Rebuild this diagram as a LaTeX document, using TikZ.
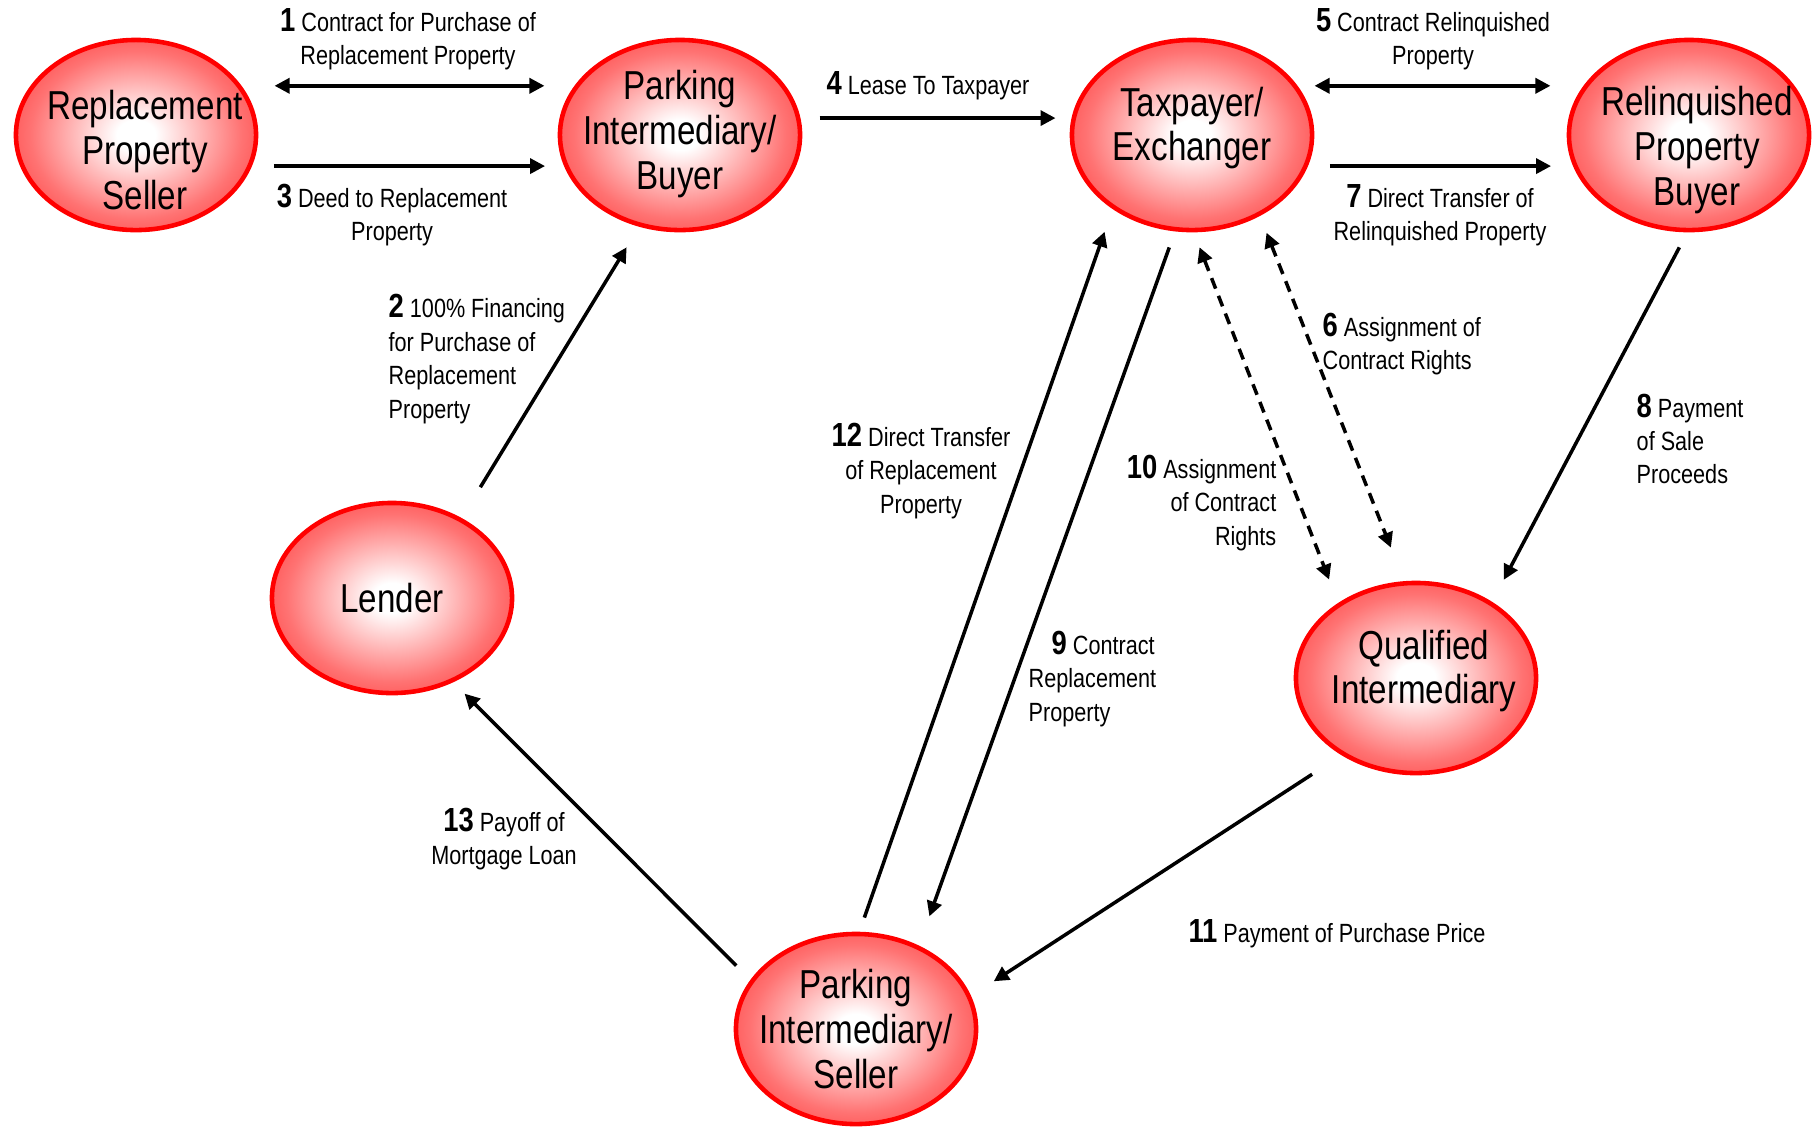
\documentclass[tikz,border=0pt]{standalone}
\usepackage{fontspec}
\setmainfont[FakeStretch=0.82]{Liberation Sans}
\usetikzlibrary{shapes.geometric,arrows.meta}
\pgfdeclareradialshading{redglow}{\pgfpoint{0bp}{0bp}}{color(0bp)=(white); color(4bp)=(white); color(22bp)=(red!55!white); color(36bp)=(red!85!white); color(50bp)=(red)}
\newcommand{\stepno}[1]{{\fontsize{9.5}{9.5}\selectfont\bfseries #1}}
\begin{document}
\begin{tikzpicture}[x=0.01cm,y=-0.01cm,
  ball/.style={ellipse,draw=red,line width=1.3pt,shade,shading=redglow,minimum width=2.4cm,minimum height=1.9cm,inner sep=0pt},
  balltext/.style={align=center,font=\fontsize{11.5}{12.7}\selectfont,inner sep=0pt},
  lbl/.style={font=\fontsize{7.5}{9.5}\selectfont,inner sep=0pt},
  arr/.style={line width=1pt,-{Triangle[length=1.5mm,width=1.5mm]}},
  darr/.style={line width=1pt,{Triangle[length=1.5mm,width=1.5mm]}-{Triangle[length=1.5mm,width=1.5mm]}},
  dasharr/.style={darr,dash pattern=on 3.2pt off 2.2pt}]
\useasboundingbox (0,0) rectangle (1818,1126);
% parties
\node[ball] (rps) at (136,135) {};
\node[ball] (pib) at (680,135) {};
\node[ball] (tax) at (1192,135) {};
\node[ball] (rpb) at (1689,135) {};
\node[ball] (lender) at (392,598) {};
\node[ball] (qi) at (1416,678) {};
\node[ball] (pis) at (856,1029) {};
\node[balltext] (rpst) at (145,150) {Replacement\\Property\\Seller};
\node[balltext] (pibt) at (680,134) {Parking\\Intermediary/\\Buyer};
\node[balltext] (taxt) at (1192,128) {Taxpayer/\\Exchanger};
\node[balltext] (rpbt) at (1697,150) {Relinquished\\Property\\Buyer};
\node[balltext] (lendert) at (392,598) {Lender};
\node[balltext] (qit) at (1424,671) {Qualified\\Intermediary};
\node[balltext] (pist) at (856,1029) {Parking\\Intermediary/\\Seller};
% steps
\draw[darr,shorten <=0.33cm,shorten >=0.30cm] (rps.25) -- (pib.155);
\draw[arr,shorten <=0.22cm,shorten >=0.19cm] (rps.-15) -- (pib.195);
\draw[arr,shorten <=0.19cm,shorten >=0.16cm] (pib.8) -- (tax.172);
\draw[darr,shorten <=0.17cm,shorten >=0.33cm] (tax.25) -- (rpb.155);
\draw[arr,shorten <=0.22cm,shorten >=0.22cm] (tax.-15) -- (rpb.195);
\draw[arr,shorten <=0.36cm,shorten >=0.24cm] (lender.49) -- (pib.246);
\draw[arr,shorten <=0.20cm,shorten >=0.16cm] (pis.155) -- (lender.-54);
\draw[arr,shorten <=0.15cm,shorten >=0.24cm] (pis.88) -- (tax.223);
\draw[arr,shorten <=0.17cm,shorten >=0.31cm] (tax.260) -- (pis.53);
\draw[dasharr,shorten <=0.16cm,shorten >=0.25cm] (tax.271) -- (qi.136);
\draw[dasharr,shorten <=0.18cm,shorten >=0.36cm] (tax.310) -- (qi.97);
\draw[arr,shorten <=0.17cm,shorten >=0.25cm] (rpb.269) -- (qi.45);
\draw[arr,shorten <=0.35cm,shorten >=0.27cm] (qi.226) -- (pis.16);
% labels
\node[lbl,align=center] (l1) at (408,39) {\stepno{1} Contract for Purchase of\\Replacement Property};
\node[lbl,align=center] (l3) at (392,215) {\stepno{3} Deed to Replacement\\Property};
\node[lbl] (l4) at (928,86) {\stepno{4} Lease To Taxpayer};
\node[lbl,align=center] (l5) at (1433,39) {\stepno{5} Contract Relinquished\\Property};
\node[lbl,align=center] (l7) at (1440,215) {\stepno{7} Direct Transfer of\\Relinquished Property};
\node[lbl,align=left,anchor=west] (l2) at (388,359) {\stepno{2} 100\% Financing\\for Purchase of\\Replacement\\Property};
\node[lbl,align=left,anchor=west] (l6) at (1322,344) {\stepno{6} Assignment of\\Contract Rights};
\node[lbl,align=center] (l12) at (921,471) {\stepno{12} Direct Transfer\\of Replacement\\Property};
\node[lbl,align=right,anchor=east] (l10) at (1277,503) {\stepno{10} Assignment\\of Contract\\Rights};
\node[lbl,align=left,anchor=west] (l8) at (1636,439) {\stepno{8} Payment\\of Sale\\Proceeds};
\node[lbl,align=left,anchor=west] (l9) at (1028,679) {\hspace*{2.3mm}\stepno{9} Contract\\Replacement\\Property};
\node[lbl,align=center] (l13) at (504,839) {\stepno{13} Payoff of\\Mortgage Loan};
\node[lbl] (l11) at (1337,934) {\stepno{11} Payment of Purchase Price};
\end{tikzpicture}
\end{document}
